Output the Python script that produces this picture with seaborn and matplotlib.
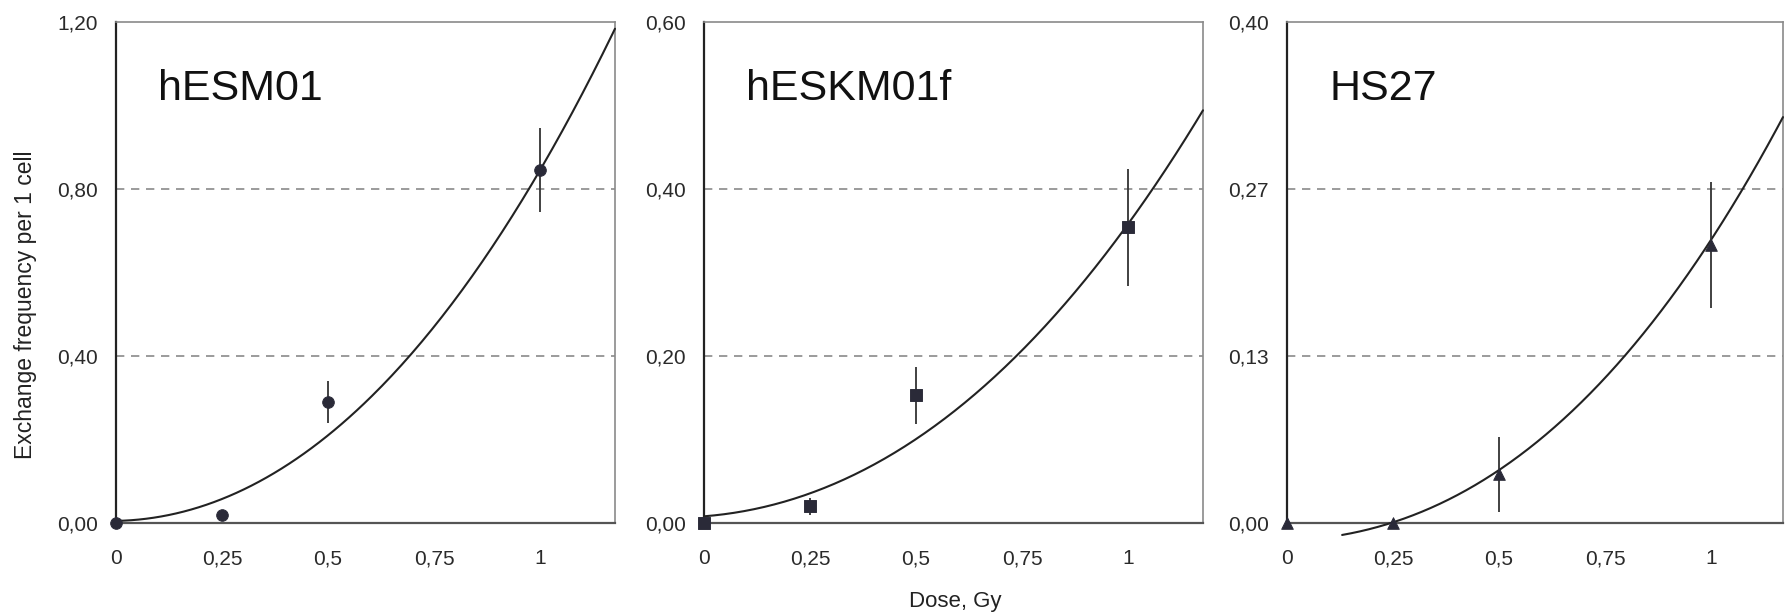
import numpy as np
import matplotlib
matplotlib.use("Agg")
import matplotlib.pyplot as plt
import pandas as pd
import seaborn as sns

# doses and measured exchange frequencies for each cell line
dose = [0, 0.25, 0.5, 1]
names = ["hESM01", "hESKM01f", "HS27"]

hesm_y = [0.00, 0.02, 0.29, 0.845]
hesm_err = [0.0, 0.0, 0.05, 0.10]
heskm_y = [0.00, 0.02, 0.153, 0.354]
heskm_err = [0.0, 0.01, 0.034, 0.07]
hs27_y = [0.00, 0.00, 0.039, 0.222]
hs27_err = [0.0, 0.0, 0.03, 0.05]

# fitted curves y = a + b*D + c*D^2 + d*D^3, and the dose where each curve starts
fit_coef = [[0.005, 0.02, 0.74, 0.08], [0.008, 0.04, 0.27, 0.04], [-0.014, 0.01, 0.18, 0.05]]
fit_start = [0.0, 0.0, 0.13]

yticks = [[0.0, 0.4, 0.8, 1.2], [0.0, 0.2, 0.4, 0.6], [0.0, 0.4 / 3, 0.8 / 3, 0.4]]
ylabels = [["0,00", "0,40", "0,80", "1,20"], ["0,00", "0,20", "0,40", "0,60"],
           ["0,00", "0,13", "0,27", "0,40"]]
xticks = [0, 0.25, 0.5, 0.75, 1]
xlabels = ["0", "0,25", "0,5", "0,75", "1"]
markers = ["o", "s", "^"]

sns.set_style("white")
plt.rcParams['font.family'] = ['Liberation Sans', 'DejaVu Sans']

fig = plt.figure(figsize=(17.89, 6.16), dpi=100)
lefts = [116, 704, 1287]
widths = [499, 499, 496]
bottom = 1 - 523 / 616
height = (523 - 22) / 616

ys = [hesm_y, heskm_y, hs27_y]
errs = [hesm_err, heskm_err, hs27_err]

for i in range(3):
    ax = fig.add_axes([lefts[i] / 1789, bottom, widths[i] / 1789, height])
    xmax = widths[i] / 424
    ymax = yticks[i][-1]

    for yv in yticks[i][1:3]:
        ax.axhline(yv, color="#8a8a8a", lw=1.2, ls=(0, (5, 4)), zorder=1)

    a, b, c, d = fit_coef[i]
    xc = np.linspace(fit_start[i], xmax, 200)
    curve = pd.DataFrame({"dose": xc, "freq": a + b * xc + c * xc ** 2 + d * xc ** 3})
    curve = curve[curve["freq"] <= ymax]
    sns.lineplot(data=curve, x="dose", y="freq", ax=ax, color="#222222", lw=1.5,
                 zorder=3, clip_on=False)

    ax.errorbar(dose, ys[i], yerr=errs[i], fmt="none", ecolor="#333333", elinewidth=1.3,
                capsize=0, zorder=4)
    pts = pd.DataFrame({"dose": dose, "freq": ys[i]})
    sns.scatterplot(data=pts, x="dose", y="freq", ax=ax, marker=markers[i], s=70,
                    color="#2a2a38", edgecolor="#2a2a38", zorder=5, clip_on=False)

    ax.set_xlim(0, xmax)
    ax.set_ylim(0, ymax)
    ax.set_xticks(xticks)
    ax.set_xticklabels(xlabels)
    ax.set_yticks(yticks[i])
    ax.set_yticklabels(ylabels[i])
    ax.set_xlabel("")
    ax.set_ylabel("")
    ax.tick_params(axis="both", direction="out", length=5, width=1.2, color="#333333",
                   labelsize=15, labelcolor="#2a2a2a")
    ax.tick_params(axis="y", pad=8)
    ax.tick_params(axis="x", pad=14)

    ax.spines["left"].set_color("#222222")
    ax.spines["left"].set_linewidth(1.6)
    ax.spines["bottom"].set_color("#555555")
    ax.spines["bottom"].set_linewidth(1.6)
    for s in ["top", "right"]:
        ax.spines[s].set_color("#8a8a8a")
        ax.spines[s].set_linewidth(1.2)

    ax.text(0.085, 0.845, names[i], transform=ax.transAxes, fontsize=31,
            color="#111111", va="baseline", ha="left")

fig.text(26 / 1789, 1 - 305 / 616, "Exchange frequency per 1 cell", rotation=90,
         fontsize=16.5, color="#222222", ha="center", va="center")
fig.text(955 / 1789, 1 - 602 / 616, "Dose, Gy", fontsize=16, color="#222222",
         ha="center", va="center")

fig.savefig("out.png", dpi=100)
